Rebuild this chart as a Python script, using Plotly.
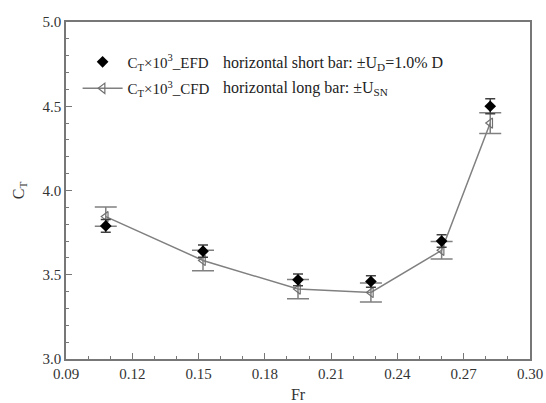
import plotly.graph_objects as go

Fr = [0.108, 0.152, 0.195, 0.228, 0.260, 0.282]
CT_EFD = [3.79, 3.64, 3.47, 3.46, 3.70, 4.50]
CT_CFD = [3.845, 3.585, 3.415, 3.395, 3.645, 4.40]
U_CFD = [0.057, 0.061, 0.057, 0.056, 0.052, 0.062]
U_D_pct = 1.0

FONT = "'Liberation Serif', 'Times New Roman', Times, 'DejaVu Serif', serif"

fig = go.Figure()
fig.add_trace(go.Scatter(
    x=Fr, y=CT_CFD, mode="lines+markers",
    name="C<sub>T</sub>×10<sup>3</sup>_CFD", legendgroup="cfd", legendrank=2,
    line=dict(color="#808080", width=1.5),
    marker=dict(symbol="triangle-left-open", size=9, color="#707070", line=dict(width=1.2)),
    error_y=dict(type="data", array=U_CFD, visible=True, color="#808080", thickness=1.5, width=11),
))
fig.add_trace(go.Scatter(
    x=Fr, y=CT_EFD, mode="markers",
    name="C<sub>T</sub>×10<sup>3</sup>_EFD", legendgroup="efd", legendrank=1,
    marker=dict(symbol="diamond", size=9, color="black"),
    error_y=dict(type="percent", value=U_D_pct, visible=True, color="#404040", thickness=1.5, width=5),
))

fig.update_layout(
    width=546, height=403,
    margin=dict(l=66, r=16, t=22, b=44),
    paper_bgcolor="white", plot_bgcolor="white",
    font=dict(family=FONT, size=14, color="#333333"),
    showlegend=True,
    legend=dict(x=0.025, y=0.93, xanchor="left", yanchor="top", traceorder="grouped",
                bgcolor="rgba(0,0,0,0)", font=dict(family=FONT, size=15, color="#222222"),
                itemwidth=40, tracegroupgap=4),
    xaxis=dict(range=[0.09, 0.30], tick0=0.09, dtick=0.03, tickformat=".2f", automargin=False,
               showline=True, linecolor="#777777", linewidth=1.5, mirror=True,
               ticks="inside", ticklen=6, tickcolor="#777777", showgrid=False, zeroline=False,
               tickfont=dict(family=FONT, size=15, color="#333333"),
               minor=dict(dtick=0.01, tick0=0.09, ticks="inside", ticklen=3, tickcolor="#777777"),
               title=dict(text="Fr", font=dict(family=FONT, size=16, color="#333333"), standoff=10)),
    yaxis=dict(range=[3.0, 5.0], dtick=0.5, tickformat=".1f", automargin=False,
               showline=True, linecolor="#777777", linewidth=1.5, mirror=True,
               ticks="inside", ticklen=6, tickcolor="#777777", showgrid=False, zeroline=False,
               tickfont=dict(family=FONT, size=15, color="#333333"),
               minor=dict(dtick=0.1, ticks="inside", ticklen=3, tickcolor="#777777"),
               title=dict(text="C<sub>T</sub>", font=dict(family=FONT, size=16, color="#333333"), standoff=14)),
)

fig.add_annotation(xref="paper", yref="paper", x=0.335, y=0.878, xanchor="left", yanchor="middle",
                   text="horizontal short bar: ±U<sub>D</sub>=1.0% D", showarrow=False,
                   font=dict(family=FONT, size=16, color="#222222"))
fig.add_annotation(xref="paper", yref="paper", x=0.335, y=0.804, xanchor="left", yanchor="middle",
                   text="horizontal long bar: ±U<sub>SN</sub>", showarrow=False,
                   font=dict(family=FONT, size=16, color="#222222"))

fig.write_html("out.html")
